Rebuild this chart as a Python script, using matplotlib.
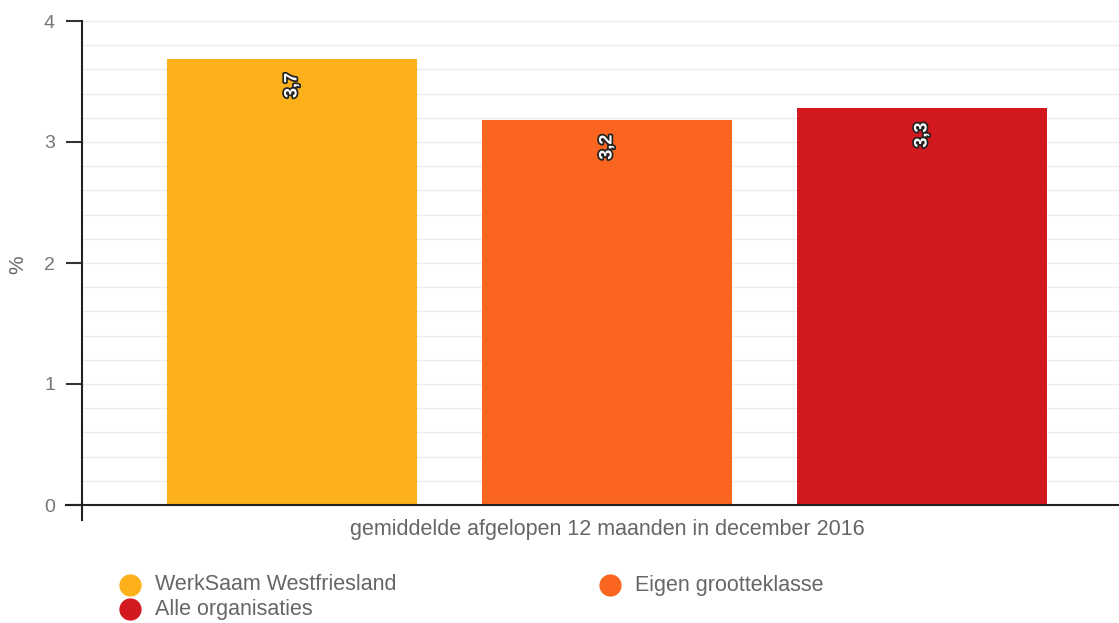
import matplotlib
matplotlib.use("Agg")
import matplotlib.pyplot as plt
import matplotlib.patheffects as pe
from matplotlib.lines import Line2D
import numpy as np

plt.rcParams['font.family'] = ['Liberation Sans', 'DejaVu Sans']

series = ["WerkSaam Westfriesland", "Eigen grootteklasse", "Alle organisaties"]
values = [3.69, 3.18, 3.28]
labels = ["3,7", "3,2", "3,3"]
colors = ["#FCB11B", "#FA6620", "#D2191F"]
xlabel = "gemiddelde afgelopen 12 maanden in december 2016"
ylabel = "%"
yticks = [0, 1, 2, 3, 4]

W, H = 1119, 623
fig = plt.figure(figsize=(W/100, H/100), dpi=100)
ax = fig.add_axes([82/W, 1-505/H, 1-82/W, (505-21)/H])

x = np.arange(len(values))
bw = 250/315
ax.bar(x, values, width=bw, color=colors, zorder=3)
for xi, v, lab in zip(x, values, labels):
    ax.text(xi, v - 27/121, lab, rotation=90, ha='center', va='center',
            fontsize=13, fontweight='bold', color='white', zorder=4,
            path_effects=[pe.withStroke(linewidth=2.5, foreground='#222222')])

xl, xr = -210/315, 2 + 197/315
ax.set_xlim(xl, xr)
ax.set_ylim(0, 4)
ax.set_yticks(yticks)
ax.set_yticklabels([str(t) for t in yticks])
ax.set_yticks(np.arange(0, 4.01, 0.2), minor=True)
ax.tick_params(axis='y', which='major', length=11.5, width=1.5, color='#333333',
               labelsize=14, labelcolor='#777777', pad=8)
ax.tick_params(axis='y', which='minor', length=0)
ax.set_xticks([])
ax.grid(axis='y', which='both', color='#ececec', linewidth=1, zorder=0)

for s in ['top', 'right']:
    ax.spines[s].set_visible(False)
ax.spines['left'].set_color('#222222')
ax.spines['left'].set_linewidth(1.5)
ax.spines['left'].set_bounds(-15/121, 4)
ax.spines['bottom'].set_color('#222222')
ax.spines['bottom'].set_linewidth(1.5)
ax.spines['bottom'].set_bounds(xl - 16/315, xr)
ax.spines['left'].set_zorder(5)
ax.spines['bottom'].set_zorder(5)

fig.text(607/W, 1-530/H, xlabel, ha='center', va='center', fontsize=15.5, color='#666666')
fig.text(18/W, 1-265/H, ylabel, ha='center', va='center', rotation=90, fontsize=15, color='#666666')

legpos = [(130, 585), (610, 585), (130, 609)]
for (lx, ly), name, c in zip(legpos, series, colors):
    fig.add_artist(Line2D([lx/W], [1-ly/H], marker='o', markersize=15, color=c,
                          linestyle='none', transform=fig.transFigure))
    fig.text((lx+25)/W, 1-ly/H, name, ha='left', va='center', fontsize=15.5, color='#666666')

fig.savefig("out.png", dpi=100)
